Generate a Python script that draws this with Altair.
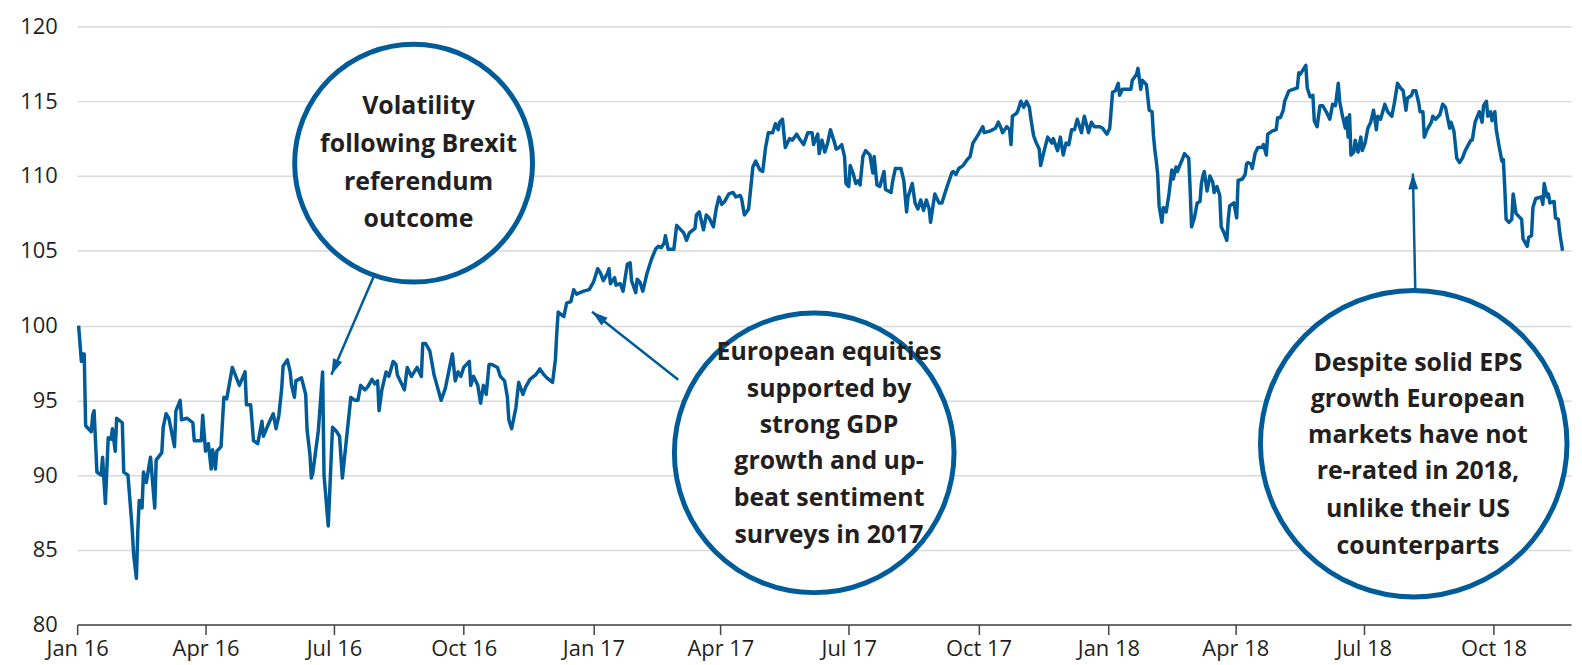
import altair as alt
import pandas as pd

# ---- data (days since 2016-01-01, index value) ----
days = [1, 3, 4, 5, 6, 10, 11, 12, 14, 17, 18, 20, 22, 24, 25, 27, 28, 32, 33, 36,
        39, 40, 42, 43, 44, 46, 47, 49, 52, 55, 56, 60, 61, 63, 65, 69, 70, 73, 74, 78,
        82, 83, 88, 89, 91, 93, 95, 96, 98, 99, 102, 104, 106, 110, 115, 119, 120, 123, 125, 128,
        131, 132, 136, 139, 141, 143, 145, 146, 149, 151, 152, 154, 155, 159, 162, 163, 165, 166, 167, 171,
        174, 175, 178, 181, 184, 186, 188, 191, 194, 197, 199, 201, 204, 206, 209, 211, 213, 214, 216, 219,
        221, 224, 226, 227, 230, 232, 234, 237, 239, 241, 244, 245, 247, 250, 253, 258, 261, 264, 266, 268,
        270, 272, 274, 278, 279, 281, 284, 286, 288, 290, 292, 294, 298, 300, 303, 305, 306, 308, 311, 313,
        316, 318, 321, 325, 328, 331, 333, 337, 339, 340, 341, 345, 347, 350, 352, 354, 359, 363, 366, 369,
        371, 373, 376, 377, 378, 381, 382, 385, 387, 390, 392, 393, 396, 397, 399, 401, 404, 407, 410, 412,
        414, 416, 417, 419, 423, 425, 427, 430, 432, 434, 438, 439, 441, 444, 446, 448, 451, 453, 455, 457,
        459, 462, 465, 467, 470, 471, 473, 476, 479, 481, 484, 486, 488, 490, 493, 495, 497, 498, 500, 502,
        505, 507, 510, 512, 515, 518, 521, 522, 525, 526, 528, 530, 532, 534, 537, 538, 540, 542, 544, 545,
        547, 548, 550, 552, 554, 555, 557, 559, 562, 564, 565, 567, 569, 572, 573, 577, 578, 580, 582, 584,
        586, 588, 589, 592, 594, 596, 598, 600, 602, 604, 605, 607, 608, 611, 613, 616, 620, 621, 623, 625,
        628, 631, 633, 635, 639, 642, 643, 647, 651, 653, 655, 656, 659, 661, 662, 663, 666, 667, 669, 671,
        673, 675, 676, 678, 680, 682, 683, 685, 688, 691, 692, 695, 697, 699, 701, 703, 705, 707, 709, 712,
        713, 714, 717, 719, 721, 725, 727, 730, 732, 734, 736, 738, 739, 741, 745, 747, 748, 751, 752, 753,
        754, 755, 758, 760, 762, 763, 764, 765, 766, 767, 769, 770, 772, 774, 776, 777, 779, 780, 782, 783,
        785, 788, 789, 790, 792, 794, 796, 797, 798, 799, 801, 803, 805, 806, 808, 810, 811, 813, 815, 816,
        817, 820, 822, 823, 826, 828, 829, 830, 832, 833, 835, 837, 840, 841, 843, 844, 847, 850, 851, 853,
        855, 856, 859, 862, 865, 866, 867, 869, 871, 872, 874, 875, 876, 877, 879, 881, 883, 886, 888, 890,
        892, 894, 895, 897, 899, 900, 901, 902, 903, 905, 906, 908, 910, 911, 913, 915, 917, 919, 921, 922,
        924, 927, 929, 932, 934, 936, 938, 940, 942, 943, 946, 947, 949, 951, 952, 954, 955, 957, 960, 961,
        963, 966, 968, 970, 973, 974, 976, 978, 980, 982, 984, 988, 989, 991, 994, 996, 997, 999, 1000, 1002,
        1003, 1005, 1006, 1008, 1010, 1011, 1012, 1013, 1015, 1017, 1018, 1020, 1022, 1024, 1025, 1028, 1029, 1031, 1032, 1034,
        1038, 1039, 1040, 1042, 1043, 1044, 1047, 1048, 1050, 1051, 1053]

values = [100.0, 97.6, 98.1, 98.1, 93.3, 92.9, 94.0, 94.3, 90.2, 90.0, 91.2, 88.1, 92.5, 92.4, 93.1, 91.6, 93.8, 93.5, 90.2, 90.0,
          86.4, 84.7, 83.1, 86.3, 88.3, 87.8, 90.2, 89.5, 91.2, 87.8, 91.0, 91.5, 93.2, 94.1, 93.8, 91.9, 94.3, 95.0, 93.7, 93.8,
          93.5, 92.3, 92.3, 94.0, 91.6, 92.1, 90.4, 91.7, 90.4, 91.6, 91.9, 95.2, 95.1, 97.2, 96.0, 96.9, 94.7, 94.7, 92.3, 92.1,
          93.6, 92.6, 93.5, 94.1, 93.1, 94.0, 95.8, 97.3, 97.7, 96.9, 96.0, 95.2, 96.3, 96.5, 95.4, 93.0, 91.4, 89.8, 90.1, 93.0,
          96.9, 90.0, 86.6, 93.2, 92.9, 92.6, 89.8, 92.5, 95.2, 95.0, 95.0, 96.0, 95.7, 95.9, 96.4, 96.1, 96.3, 94.3, 95.7, 96.9,
          96.6, 97.6, 97.4, 96.7, 96.1, 95.7, 97.2, 96.6, 96.9, 97.2, 96.6, 98.8, 98.8, 98.3, 96.7, 95.0, 95.8, 97.2, 98.1, 96.3,
          96.9, 96.6, 97.2, 97.6, 96.0, 96.6, 96.0, 94.8, 96.0, 95.4, 97.4, 97.4, 97.2, 96.6, 96.3, 95.2, 93.7, 93.1, 94.5, 96.2,
          95.4, 95.9, 96.4, 96.7, 97.1, 96.7, 96.5, 96.2, 97.7, 99.5, 100.9, 100.6, 101.5, 101.6, 102.4, 102.1, 102.3, 102.4, 102.9, 103.8,
          103.5, 103.0, 103.5, 103.8, 102.8, 103.2, 102.7, 102.8, 102.3, 104.1, 104.2, 103.0, 102.2, 103.1, 102.9, 102.3, 103.5, 104.4, 105.1, 105.3,
          105.2, 105.5, 106.0, 105.1, 105.1, 106.7, 106.5, 106.2, 105.7, 106.2, 106.5, 107.4, 107.6, 106.4, 107.4, 107.2, 106.6, 107.8, 108.6, 108.1,
          108.3, 108.8, 108.9, 108.6, 108.7, 108.5, 107.4, 107.8, 110.6, 111.0, 110.4, 110.3, 111.9, 112.9, 112.9, 113.5, 113.1, 113.6, 113.8, 111.9,
          112.5, 112.4, 112.8, 112.5, 112.1, 112.9, 112.9, 112.1, 112.8, 111.5, 112.4, 111.6, 112.2, 113.1, 112.2, 111.8, 111.9, 112.1, 111.3, 109.5,
          109.3, 110.7, 110.2, 109.5, 109.7, 109.4, 111.3, 111.7, 111.4, 110.2, 111.3, 109.4, 109.3, 110.3, 109.1, 108.9, 109.6, 110.5, 110.5, 110.5,
          109.7, 107.6, 108.6, 109.5, 108.2, 107.8, 108.4, 107.7, 108.4, 107.8, 106.9, 108.2, 108.8, 108.2, 108.2, 109.1, 110.2, 110.3, 110.1, 110.5,
          110.7, 111.1, 111.3, 112.2, 112.8, 113.3, 112.9, 113.0, 113.2, 113.6, 113.2, 112.9, 113.3, 113.1, 112.1, 114.0, 114.2, 114.4, 115.0, 114.6,
          115.0, 114.6, 113.9, 112.7, 112.2, 111.8, 110.7, 111.5, 112.6, 112.2, 112.5, 111.7, 112.6, 111.4, 112.2, 112.1, 113.1, 113.1, 113.8, 112.9,
          113.5, 114.0, 112.9, 113.6, 113.3, 113.3, 113.2, 112.8, 113.2, 115.6, 115.7, 116.2, 115.4, 115.8, 115.8, 115.8, 116.4, 116.8, 117.2, 116.5,
          115.8, 116.4, 116.1, 114.4, 114.3, 112.7, 111.7, 111.0, 110.1, 108.0, 106.9, 107.9, 107.6, 108.8, 110.4, 109.8, 110.6, 110.3, 110.8, 111.0,
          111.5, 111.2, 109.1, 106.6, 107.2, 108.2, 108.3, 109.5, 110.0, 110.3, 109.0, 110.0, 109.6, 108.9, 109.3, 108.7, 106.6, 106.2, 105.7, 107.1,
          108.0, 108.2, 107.2, 109.7, 109.8, 110.1, 110.8, 110.9, 110.8, 110.5, 111.5, 111.9, 111.9, 112.1, 111.4, 112.8, 113.0, 113.1, 113.9, 113.9,
          114.4, 115.0, 115.7, 115.8, 115.9, 116.9, 116.8, 117.1, 117.4, 115.9, 115.3, 115.3, 115.4, 113.7, 113.3, 114.7, 114.7, 114.2, 113.8, 114.8,
          114.7, 116.2, 115.0, 114.0, 113.2, 113.9, 112.6, 114.1, 111.4, 111.6, 112.4, 111.6, 112.6, 111.7, 112.2, 113.2, 113.6, 114.4, 113.1, 114.0,
          113.8, 114.8, 114.3, 114.0, 115.0, 116.2, 115.9, 115.7, 114.4, 115.2, 115.4, 115.7, 115.7, 114.9, 114.3, 114.3, 112.6, 113.1, 113.6, 114.0,
          113.8, 114.1, 114.8, 114.6, 113.2, 113.6, 113.0, 111.2, 110.9, 111.2, 111.7, 112.4, 112.4, 113.6, 114.3, 113.6, 114.7, 115.0, 114.0, 114.3,
          113.7, 114.3, 113.1, 112.0, 111.0, 111.1, 109.3, 107.1, 106.9, 107.1, 108.8, 107.5, 107.3, 107.1, 105.8, 105.3, 105.9, 106.0, 107.9, 108.5,
          108.6, 108.1, 109.5, 108.6, 108.8, 108.2, 108.3, 107.2, 107.1, 106.2, 105.0]

# axis ticks
y_ticks = [80, 85, 90, 95, 100, 105, 110, 115, 120]
x_tick_years = [2016, 2016, 2016, 2016, 2017, 2017, 2017, 2017, 2018, 2018, 2018, 2018]
x_tick_months = [1, 4, 7, 10, 1, 4, 7, 10, 1, 4, 7, 10]

# annotations (circle centre in days / index value)
circle_days = [238.5, 522.5, 947.5]
circle_values = [110.86, 91.49, 92.10]
circle_sizes = [57121, 78961, 94864]

text_lines = ["Volatility", "following Brexit", "referendum", "outcome",
              "European equities", "supported by", "strong GDP", "growth and up-",
              "beat sentiment", "surveys in 2017",
              "Despite solid EPS", "growth European", "markets have not",
              "re-rated in 2018,", "unlike their US", "counterparts"]
text_days = [242.0] * 4 + [533.0] * 6 + [950.5] * 6
text_values = [114.68, 112.13, 109.58, 107.15,
               98.24, 95.74, 93.32, 90.92, 88.49, 86.00,
               97.49, 95.07, 92.65, 90.24, 87.75, 85.26]

arrow_start_days = [211.2, 426.1, 948.6]
arrow_start_values = [103.49, 96.37, 102.36]
arrow_tip_days = [180.2, 365.0, 946.9]
arrow_tip_values = [96.71, 100.92, 110.17]
arrow_angles = [203.3, 308.2, 358.8]

# ---- build tables ----
START = pd.Timestamp("2016-01-01")
FMT = "%Y-%m-%dT%H:%M:%S"


def to_date(d):
    return (START + pd.to_timedelta(pd.Series(d, dtype=float), unit="D")).dt.strftime(FMT)


line_df = pd.DataFrame({"date": to_date(days), "value": values})
circle_df = pd.DataFrame({"date": to_date(circle_days), "value": circle_values, "size": circle_sizes})
text_df = pd.DataFrame({"date": to_date(text_days), "value": text_values, "label": text_lines})
arrow_df = pd.DataFrame({
    "date": to_date(arrow_start_days), "value": arrow_start_values,
    "date2": to_date(arrow_tip_days), "value2": arrow_tip_values,
})
head_df = pd.DataFrame({"date": to_date(arrow_tip_days), "value": arrow_tip_values, "angle": arrow_angles})

BLUE = "#005c99"
FONT = "Open Sans"
TEXT = "#231f20"

x_scale = alt.Scale(domain=[alt.DateTime(year=2016, month=1, date=1),
                            alt.DateTime(year=2018, month=11, date=25)])
y_scale = alt.Scale(domain=[80, 120], nice=False, zero=False)

x_axis = alt.Axis(
    values=[alt.DateTime(year=y, month=m, date=1) for y, m in zip(x_tick_years, x_tick_months)],
    format="%b %y", title=None, grid=False, labelFlush=False, labelOverlap=False,
    labelFont=FONT, labelFontSize=22, labelColor=TEXT, labelPadding=4,
    domainColor="#444444", domainWidth=1.5, tickColor="#444444", tickWidth=1.5, tickSize=10,
)
y_axis = alt.Axis(
    values=y_ticks, title=None, grid=True, gridColor="#d9d9d9", gridWidth=1.5,
    domain=False, ticks=False, tickSize=0, labelPadding=20,
    labelFont=FONT, labelFontSize=22, labelColor=TEXT,
)

X = alt.X("date:T", scale=x_scale, axis=x_axis)
Y = alt.Y("value:Q", scale=y_scale, axis=y_axis)

line = alt.Chart(line_df).mark_line(color=BLUE, strokeWidth=3.5, strokeJoin="round").encode(x=X, y=Y)

circles = alt.Chart(circle_df).mark_point(
    shape="circle", filled=True, fill="white", stroke=BLUE, strokeWidth=5, opacity=1, fillOpacity=1
).encode(x="date:T", y="value:Q", size=alt.Size("size:Q", scale=None, legend=None))

texts = alt.Chart(text_df).mark_text(
    font=FONT, fontWeight="bold", fontSize=25, color=TEXT, align="center", baseline="middle"
).encode(x="date:T", y="value:Q", text="label:N")

arrows = alt.Chart(arrow_df).mark_rule(color=BLUE, strokeWidth=2.5).encode(
    x="date:T", x2="date2", y="value:Q", y2="value2"
)

heads = alt.Chart(head_df).mark_point(
    shape="M0,0L-0.5,1.6L0.5,1.6Z", filled=True, color=BLUE, opacity=1, size=400
).encode(x="date:T", y="value:Q", angle=alt.Angle("angle:Q", scale=None))

chart = alt.layer(line, circles, texts, arrows, heads).properties(
    width=1501, height=601,
    autosize=alt.AutoSizeParams(type="none"),
    padding={"left": 69.5, "top": 17, "right": 3, "bottom": 38},
).configure_view(stroke=None)

chart.save("out.html", embed_options={"renderer": "svg", "actions": False})
